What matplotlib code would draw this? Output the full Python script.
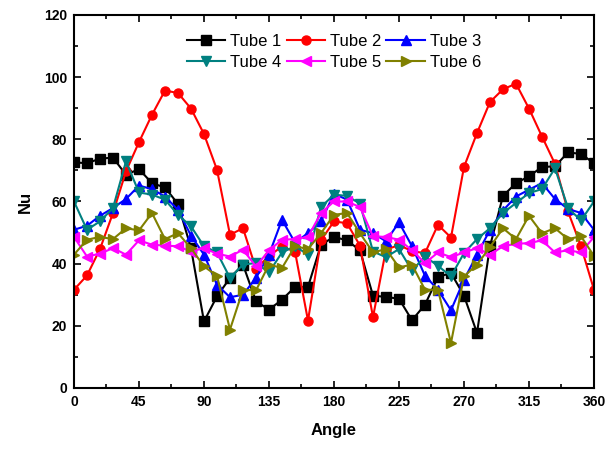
import numpy as np
import matplotlib.pyplot as plt
from matplotlib.ticker import MultipleLocator

plt.rcParams['font.family'] = ['Liberation Sans', 'DejaVu Sans']

angle = np.arange(0, 361, 9)

tube1 = [72.6, 72.3, 73.8, 74.1, 68.6, 70.4, 65.9, 64.5, 59.2, 45.0,
         21.4, 29.5, 35.4, 39.7, 27.9, 25.2, 28.4, 32.5, 32.5, 46.1,
         48.6, 47.5, 44.3, 29.7, 29.3, 28.7, 21.8, 26.8, 35.7, 37.0,
         29.7, 17.7, 45.6, 61.8, 65.9, 68.1, 71.1, 71.3, 75.8, 75.3, 72.3]
tube2 = [31.6, 36.2, 44.7, 56.3, 69.7, 79.1, 87.9, 95.7, 94.9, 89.9,
         81.7, 70.2, 49.3, 51.4, 38.3, 42.5, 45.5, 43.9, 21.7, 47.5,
         53.6, 53.0, 45.8, 22.8, 44.5, 46.0, 44.0, 43.4, 52.5, 48.4,
         71.1, 82.0, 92.0, 96.1, 97.9, 89.9, 80.9, 72.1, 56.8, 45.6, 31.6]
tube3 = [50.9, 52.2, 55.4, 57.9, 60.8, 65.1, 64.0, 61.6, 57.3, 49.0,
         42.9, 33.2, 29.2, 30.0, 35.4, 42.9, 54.1, 46.8, 49.8, 53.6,
         62.5, 60.6, 50.9, 49.8, 47.2, 53.3, 45.6, 36.1, 31.6, 25.0,
         34.8, 42.9, 50.9, 57.1, 61.6, 63.8, 65.9, 60.8, 57.6, 56.3, 50.9]
tube4 = [60.0, 50.9, 53.6, 57.9, 72.9, 62.9, 62.2, 60.6, 55.7, 52.0,
         45.6, 43.6, 35.4, 39.7, 40.2, 37.2, 43.6, 45.6, 42.9, 58.2,
         62.2, 61.8, 59.3, 43.9, 42.1, 44.7, 37.8, 42.3, 39.3, 35.9,
         43.4, 47.9, 51.4, 56.3, 59.5, 62.7, 64.0, 70.7, 57.9, 53.9, 60.0]
tube5 = [48.6, 42.3, 43.2, 45.0, 42.9, 47.5, 46.1, 45.8, 45.6, 43.9,
         45.0, 43.2, 42.3, 44.5, 39.1, 44.3, 47.7, 47.9, 48.6, 56.3,
         60.0, 60.0, 58.2, 48.8, 48.6, 47.7, 44.3, 40.2, 43.6, 42.1,
         43.6, 45.0, 42.9, 45.6, 46.4, 46.6, 47.5, 43.6, 44.3, 43.6, 48.6]
tube6 = [42.9, 47.7, 48.6, 47.9, 51.4, 50.7, 56.3, 47.9, 49.8, 45.0,
         39.1, 36.1, 18.8, 31.6, 31.4, 39.7, 38.6, 45.6, 44.7, 49.8,
         55.7, 56.3, 49.8, 43.6, 44.7, 38.8, 39.7, 31.6, 31.6, 14.5,
         35.9, 39.7, 45.3, 51.4, 47.9, 55.4, 49.8, 51.4, 47.9, 48.8, 42.5]

series = [
    ('Tube 1', tube1, 'black', 's'),
    ('Tube 2', tube2, '#ff0000', 'o'),
    ('Tube 3', tube3, '#0000ff', '^'),
    ('Tube 4', tube4, '#008080', 'v'),
    ('Tube 5', tube5, '#ff00ff', '<'),
    ('Tube 6', tube6, '#808000', '>'),
]

fig = plt.figure(figsize=(6.05, 4.5), dpi=100)
ax = fig.add_axes([0.1223, 0.1378, 0.8595, 0.8289])

lines = []
for name, vals, col, mk in series:
    ln, = ax.plot(angle, vals, color=col, marker=mk, markersize=6.5, linewidth=1.5, label=name)
    lines.append(ln)

ax.set_xlim(0, 360)
ax.set_ylim(0, 120)
ax.xaxis.set_major_locator(MultipleLocator(45))
ax.xaxis.set_minor_locator(MultipleLocator(22.5))
ax.yaxis.set_major_locator(MultipleLocator(20))
ax.yaxis.set_minor_locator(MultipleLocator(10))
ax.tick_params(which='both', direction='in', top=True, right=True, width=1.2)
ax.tick_params(which='major', length=5, labelsize=10, pad=5)
ax.tick_params(which='minor', length=3)
for lab in ax.get_xticklabels() + ax.get_yticklabels():
    lab.set_fontweight('bold')
for sp in ax.spines.values():
    sp.set_linewidth(1.5)

ax.set_xlabel('Angle', fontsize=12, fontweight='bold', labelpad=10)
ax.set_ylabel('Nu', fontsize=12, fontweight='bold', labelpad=8)

# row-wise legend order: 1 2 3 / 4 5 6
order = [0, 3, 1, 4, 2, 5]
ax.legend([lines[i] for i in order], [series[i][0] for i in order],
          loc='upper center', ncol=3, frameon=False, fontsize=12,
          bbox_to_anchor=(0.5, 0.975), handlelength=2.3, columnspacing=0.3,
          handletextpad=0.3, labelspacing=0.35, borderaxespad=0.2)

fig.savefig('out.png', dpi=100)
